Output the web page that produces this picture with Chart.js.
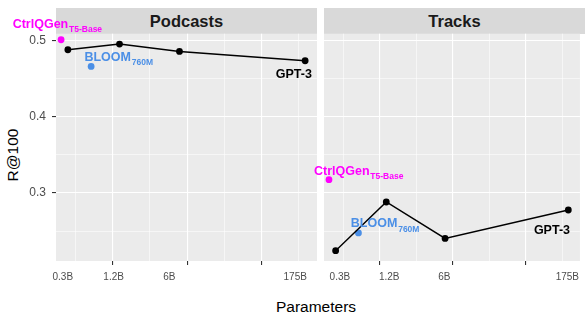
<!DOCTYPE html>
<html><head><meta charset="utf-8">
<script src="https://cdn.jsdelivr.net/npm/chart.js@4"></script>
<style>
html,body{margin:0;padding:0;background:#fff;}
#wrap{position:relative;width:585px;height:316px;overflow:hidden;font-family:"Liberation Sans",Arial,sans-serif;}
.strip{position:absolute;top:8px;height:25.7px;background:#D9D9D9;color:#1A1A1A;font-weight:bold;font-size:16.5px;line-height:26px;text-align:center;}
.holder{position:absolute;top:0;height:316px;}
#ytitle{position:absolute;left:12.5px;top:155px;transform:translate(-50%,-50%) rotate(-90deg);font-size:15.5px;white-space:nowrap;color:#000;}
#xtitle{position:absolute;left:316px;top:307px;transform:translate(-50%,-50%);font-size:15.5px;white-space:nowrap;color:#000;}
</style></head>
<body><div id="wrap">
<div class="strip" style="left:56px;width:261px">Podcasts</div>
<div class="strip" style="left:324px;width:261px">Tracks</div>
<div id="ytitle">R@100</div>
<div id="xtitle">Parameters</div>
<div class="holder" style="left:0;width:317px"><canvas id="c1"></canvas></div>
<div class="holder" style="left:300px;width:285px"><canvas id="c2"></canvas></div>
</div>
<script>
// ---- data ----
const panels = ['Podcasts', 'Tracks'];
const gptParams = [0.3, 1.2, 6, 175];          // billions
const gptPodcasts = [0.4878, 0.4953, 0.4856, 0.4734];
const gptTracks = [0.2244, 0.2882, 0.2405, 0.2777];
const ctrlParams = [0.25];
const ctrlPodcasts = [0.5009];
const ctrlTracks = [0.3175];
const bloomParams = [0.56];
const bloomPodcasts = [0.466];
const bloomTracks = [0.2476];
const xTickLabels = ['0.3B', '1.2B', '6B', '175B'];
const yTickValues = [0.3, 0.4, 0.5];

// ---- layout / style ----
const FONT = '"Liberation Sans", Arial, sans-serif';
Chart.defaults.font.family = FONT;
const MAGENTA = '#FF00FF', BLUE = '#4B8FE6';
const PANEL_W = 261;

// scale ranges: ggplot-like 5% expansion (log for x)
const lx = gptParams.map(Math.log);
const lxr = Math.max(...lx) - Math.min(...lx);
const xMin = Math.exp(Math.min(...lx) - 0.05 * lxr);
const xMax = Math.exp(Math.max(...lx) + 0.05 * lxr);
const allY = [...gptPodcasts, ...gptTracks, ...bloomPodcasts, ...bloomTracks];
const yr = Math.max(...allY) - Math.min(...allY);
const yMin = Math.min(...allY) - 0.05 * yr;
const yMax = Math.max(...allY) + 0.05 * yr;

const xMajor = [0, 2, 4].map(Math.exp);
const xMinor = [-1, 1, 3, 5].map(Math.exp);
const yMinor = [0.25, 0.35, 0.45];

const panelBg = {
  id: 'panelBg',
  beforeDraw(chart) {
    const {ctx, chartArea: a} = chart;
    ctx.save();
    ctx.fillStyle = '#EBEBEB';
    ctx.fillRect(a.left, a.top, a.right - a.left, a.bottom - a.top);
    ctx.restore();
  }
};

function makeAnnot(items) {
  return {
    id: 'annot',
    afterDatasetsDraw(chart) {
      const ctx = chart.ctx, xs = chart.scales.x, ys = chart.scales.y;
      for (const l of items) {
        const px = xs.getPixelForValue(l.x), py = ys.getPixelForValue(l.y);
        ctx.save();
        ctx.fillStyle = l.color;
        ctx.textBaseline = 'alphabetic';
        ctx.textAlign = 'left';
        ctx.font = 'bold 12.5px ' + FONT;
        const w = ctx.measureText(l.main).width;
        ctx.font = 'bold 8.5px ' + FONT;
        const ws = l.sub ? ctx.measureText(l.sub).width + 0.8 : 0;
        const left = l.align === 'right' ? px + l.dx - (w + ws) : px + l.dx;
        ctx.font = 'bold 12.5px ' + FONT;
        ctx.fillText(l.main, left, py + l.dy);
        if (l.sub) {
          ctx.font = 'bold 8.5px ' + FONT;
          ctx.fillText(l.sub, left + w + 0.8, py + l.dy + 4.2);
        }
        ctx.restore();
      }
    }
  };
}

function makePanel(id, gptY, ctrlY, bloomY, isLeft, padLeft, labelShift, annotOffsets) {
  const pts = (xs, ys) => xs.map((x, i) => ({x, y: ys[i]}));
  const items = [
    {x: ctrlParams[0], y: ctrlY[0], main: 'CtrlQGen', sub: 'T5-Base', color: MAGENTA, ...annotOffsets.ctrl},
    {x: bloomParams[0], y: bloomY[0], main: 'BLOOM', sub: '760M', color: BLUE, ...annotOffsets.bloom},
    {x: gptParams[3], y: gptY[3], main: 'GPT-3', color: '#000', align: 'right', ...annotOffsets.gpt}
  ];
  return new Chart(document.getElementById(id), {
    type: 'scatter',
    data: {
      datasets: [
        {label: 'GPT-3', data: pts(gptParams, gptY), showLine: true, borderColor: '#000', borderWidth: 1.4,
         pointRadius: 3.4, pointBackgroundColor: '#000', pointBorderWidth: 0, clip: false},
        {label: 'CtrlQGen', data: pts(ctrlParams, ctrlY), pointRadius: 3.4, pointBackgroundColor: MAGENTA,
         pointBorderWidth: 0, clip: false},
        {label: 'BLOOM', data: pts(bloomParams, bloomY), pointRadius: 3.4, pointBackgroundColor: BLUE,
         pointBorderWidth: 0, clip: false}
      ]
    },
    options: {
      responsive: true, maintainAspectRatio: false, animation: false, devicePixelRatio: 1,
      layout: {padding: {top: 33.7, left: padLeft, right: 0, bottom: 0}, autoPadding: false},
      plugins: {legend: {display: false}, tooltip: {enabled: false}, title: {display: false}},
      events: [],
      scales: {
        x: {
          type: 'logarithmic', min: xMin, max: xMax, bounds: 'data',
          afterBuildTicks: s => {
            const span = Math.log10(xMax / xMin);
            s.ticks = [
              ...xMinor.map(v => ({value: v, kind: 'minor'})),
              ...xMajor.map(v => ({value: v, kind: 'major'})),
              ...xTickLabels.map((t, i) => ({value: gptParams[i] * Math.pow(10, labelShift[i] / PANEL_W * span), kind: 'label', text: t}))
            ];
          },
          afterFit: s => { s.height = 55; },
          border: {display: false},
          grid: {
            color: c => (c.tick && c.tick.kind === 'label') ? 'rgba(0,0,0,0)' : '#FFFFFF',
            lineWidth: c => (c.tick && c.tick.kind === 'major') ? 1.1 : 0.55,
            drawTicks: true, tickLength: 4, tickWidth: 1.1,
            tickColor: c => (c.tick && c.tick.kind === 'major') ? '#333333' : 'rgba(0,0,0,0)'
          },
          ticks: {
            autoSkip: false, maxRotation: 0, minRotation: 0, padding: 6, color: '#4D4D4D',
            font: {size: 10, family: FONT},
            callback: (v, i, t) => t[i].kind === 'label' ? t[i].text : ''
          }
        },
        y: {
          type: 'linear', min: yMin, max: yMax, bounds: 'data',
          afterBuildTicks: s => {
            s.ticks = [
              ...yMinor.map(v => ({value: v, kind: 'minor'})),
              ...yTickValues.map(v => ({value: v, kind: 'major'}))
            ];
          },
          afterFit: s => { s.width = isLeft ? 56 : 0; },
          border: {display: false},
          grid: {
            color: '#FFFFFF',
            lineWidth: c => (c.tick && c.tick.kind === 'major') ? 1.1 : 0.55,
            drawTicks: isLeft, tickLength: 4, tickWidth: 1.1,
            tickColor: c => (c.tick && c.tick.kind === 'major') ? '#333333' : 'rgba(0,0,0,0)'
          },
          ticks: {
            display: isLeft, padding: 6, color: '#4D4D4D', autoSkip: false,
            font: {size: 12, family: FONT},
            callback: (v, i, t) => t[i].kind === 'major' ? v.toFixed(1) : ''
          }
        }
      }
    },
    plugins: [panelBg, makeAnnot(items)]
  });
}

makePanel('c1', gptPodcasts, ctrlPodcasts, bloomPodcasts, true, 0, [-5.1, -5.9, -10.2, -9.9], {
  ctrl: {dx: -48.4, dy: -11.7},
  bloom: {dx: -6.7, dy: -5.7},
  gpt: {dx: 6.7, dy: 17.3}
});
makePanel('c2', gptTracks, ctrlTracks, bloomTracks, false, 24, [4.3, 3, -0.8, -1], {
  ctrl: {dx: -15, dy: -5},
  bloom: {dx: -7.6, dy: -5.6},
  gpt: {dx: 1.7, dy: 24}
});
</script>
</body></html>
